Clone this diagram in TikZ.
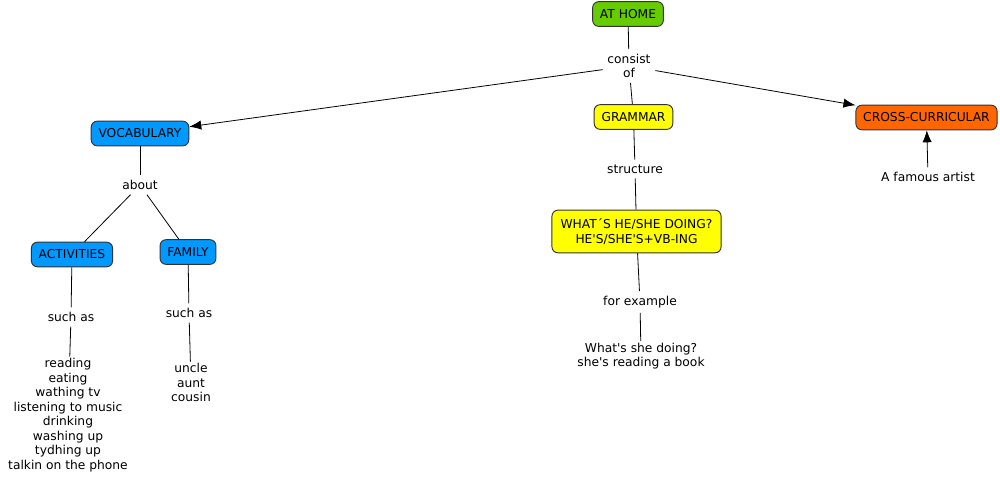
\documentclass[tikz,border=0pt]{standalone}
\usepackage{fontspec}
\setmainfont{DejaVu Sans}
\usetikzlibrary{arrows.meta}
\definecolor{cgreen}{HTML}{66CC00}
\definecolor{cyellow}{HTML}{FFFF00}
\definecolor{corange}{HTML}{FF6600}
\definecolor{cblue}{HTML}{0099FF}
\definecolor{cborder}{HTML}{333333}
\newcommand{\q}{\textquotesingle}
\begin{document}
\begin{tikzpicture}[x=0.75pt,y=-0.75pt,
  every node/.style={font=\fontsize{9.2pt}{10.9pt}\selectfont, text=black},
  concept/.style={draw=cborder, line width=0.7pt, rounded corners=4.5pt, minimum height=18.5pt, inner xsep=5.5pt, align=center},
  lab/.style={inner sep=3.5pt, align=center},
  link/.style={draw=black, line width=0.6pt},
  arr/.style={link, -{Latex[length=9pt,width=7pt]}}]
\useasboundingbox (0,0) rectangle (1000,482);
\fill[white] (0,0) rectangle (1000,482);
% concepts
\node[concept, fill=cgreen] (home) at (628,14) {AT HOME};
\node[concept, fill=cyellow] (gram) at (633.5,117) {GRAMMAR};
\node[concept, fill=corange] (cross) at (926.5,117.5) {CROSS-CURRICULAR};
\node[concept, fill=cblue] (voc) at (140,133.5) {VOCABULARY};
\node[concept, fill=cblue] (act) at (72,254.5) {ACTIVITIES};
\node[concept, fill=cblue] (fam) at (188,252) {FAMILY};
\node[concept, fill=cyellow, minimum height=32pt, inner xsep=6.5pt] (what) at (636.5,231.5) {WHAT´S HE/SHE DOING?\\HE\q S/SHE\q S+VB-ING};
% labels
\node[lab] (cons) at (629,66) {consist\\of};
\node[lab] (about) at (140,185) {about};
\node[lab] (such1) at (71,317) {such as};
\node[lab] (such2) at (189,313) {such as};
\node[lab] (struct) at (635,169) {structure};
\node[lab] (forex) at (640,302) {for example};
\node[lab] (artist) at (928,177) {A famous artist};
\node[lab, inner ysep=1pt] (actlist) at (68,415) {reading\\eating\\wathing tv\\listening to music\\drinking\\washing up\\tydhing up\\talkin on the phone};
\node[lab, inner ysep=1pt] (famlist) at (191,382.5) {uncle\\aunt\\cousin};
\node[lab, inner ysep=1pt] (example) at (641,356) {What\q s she doing?\\she\q s reading a book};
% connectors
\draw[link] (home) -- (cons);
\draw[arr] (cons) -- (voc);
\draw[link] (cons) -- (gram);
\draw[arr] (cons) -- (cross);
\draw[link] (voc) -- (about);
\draw[link] (about) -- (act);
\draw[link] (about) -- (fam);
\draw[link] (act) -- (such1);
\draw[link] (such1) -- (actlist);
\draw[link] (fam) -- (such2);
\draw[link] (such2) -- (famlist);
\draw[link] (gram) -- (struct);
\draw[link] (struct) -- (what);
\draw[link] (what) -- (forex);
\draw[link] (forex) -- (example);
\draw[arr] (artist) -- (cross);
\end{tikzpicture}
\end{document}
